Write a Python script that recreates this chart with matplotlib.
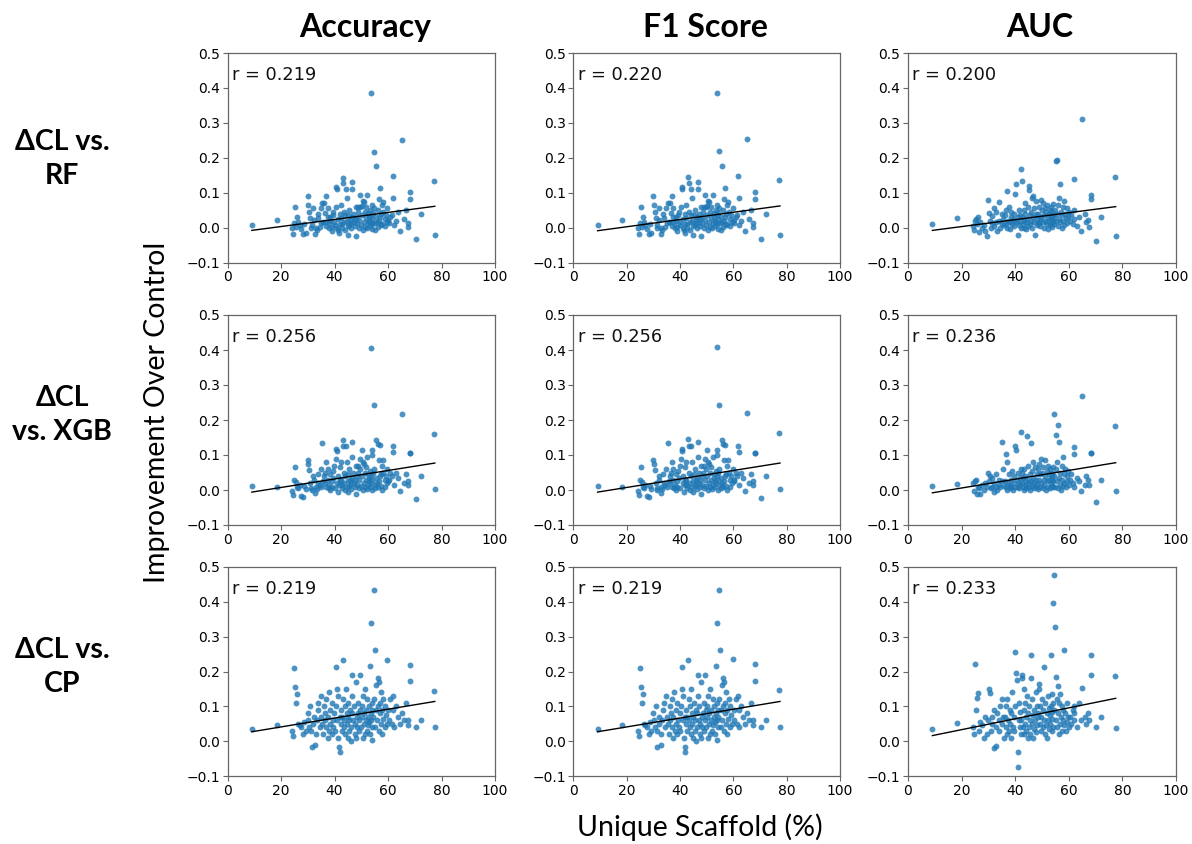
import matplotlib
matplotlib.use("Agg")
import matplotlib.pyplot as plt
import numpy as np

# ---------------- data ----------------
x_scaffold = [9.1, 18.4, 24.2, 24.6, 25.0, 25.4, 25.7, 26.1, 26.5, 27.0, 27.6, 28.2, 28.7, 29.3,
              30.0, 30.2, 30.6, 30.9, 31.3, 31.5, 32.0, 32.2, 32.7, 33.0, 33.3, 33.8, 34.0, 34.4, 34.9, 35.1, 35.4, 35.8,
              36.1, 36.4, 36.6, 36.9, 37.0, 37.4, 37.5, 37.9, 38.0, 38.4, 38.5, 38.9, 39.0, 39.4, 39.5, 39.9, 40.0, 40.4,
              40.6, 40.9, 41.0, 41.3, 41.4, 41.7, 41.9, 42.0,
              42.3, 42.4, 42.7, 42.8, 43.1, 43.2, 43.4, 43.7, 43.8, 44.1, 44.2, 44.5, 44.6, 44.9, 45.0, 45.2, 45.5, 45.6,
              45.9, 46.0, 46.3, 46.4, 46.6, 46.7, 47.1, 47.2, 47.5, 47.6, 47.9, 48.0, 48.3, 48.4,
              48.6, 48.9, 49.0, 49.3, 49.4, 49.7, 49.8, 50.1, 50.2, 50.5, 50.6, 50.9, 51.0, 51.3, 51.4, 51.7, 51.8, 52.1,
              52.2, 52.5, 52.6, 52.9, 53.0, 53.3, 53.4, 53.6, 53.7, 53.8, 53.9, 54.0, 54.1, 54.2,
              54.3, 54.6, 54.8, 55.1, 55.2, 55.5, 55.7, 55.8, 56.1, 56.2, 56.5, 56.6, 56.9, 57.0, 57.3, 57.4, 57.7, 57.8,
              58.1, 58.3, 58.7, 58.9, 59.3, 59.5, 59.8, 60.1,
              60.4, 60.9, 61.5, 61.9, 62.0, 62.1, 62.9, 63.8, 64.5, 65.1, 65.9, 66.6, 67.3, 67.4, 68.1, 68.3, 70.3, 72.2,
              77.3, 77.5]

acc_rf = [0.008, 0.023, 0.000, -0.017, 0.012, 0.059, 0.003, 0.029, 0.017, 0.008, -0.005, -0.019, 0.010, -0.016,
          0.090, 0.065, 0.046, 0.027, 0.000, 0.008, 0.055, 0.022, -0.017, 0.000, -0.007, 0.040, 0.027, 0.003, 0.055, 0.012, 0.071, 0.017,
          0.071, 0.017, 0.041, 0.005, 0.090, 0.030, 0.055, 0.012, -0.002, 0.029, 0.020, -0.011, 0.003, 0.035, 0.046, 0.017, 0.008, 0.060,
          0.116, 0.110, 0.000, 0.025, -0.007, -0.016, 0.040, 0.010,
          0.065, 0.027, 0.010, 0.000, 0.143, 0.127, 0.046, 0.017, -0.007, 0.035, 0.110, 0.020, 0.084, 0.005, -0.021, 0.036, 0.008, 0.050,
          0.022, 0.012, -0.002, 0.030, 0.130, 0.110, 0.040, 0.015, 0.025, 0.004, 0.060, -0.024, 0.031, 0.012,
          0.046, 0.060, 0.000, 0.022, 0.094, 0.058, 0.008, 0.036, 0.061, -0.007, 0.077, 0.017, 0.074, 0.003, 0.046, 0.058, 0.027, -0.002,
          0.093, 0.012, 0.041, 0.030, 0.020, 0.005, 0.050, 0.015, 0.386, 0.035, 0.010, 0.065, 0.025, -0.005,
          0.041, 0.055, 0.217, 0.012, -0.007, 0.030, 0.175, 0.017, 0.003, 0.050, 0.082, 0.020, 0.031, 0.114, 0.008, 0.040, 0.010, 0.065,
          0.072, 0.046, 0.025, 0.005, 0.035, 0.015, 0.055, 0.022,
          0.012, 0.029, 0.035, 0.148, 0.085, 0.008, 0.019, 0.045, -0.010, 0.252, 0.025, 0.050, 0.012, 0.003, 0.101, 0.083, -0.034, 0.040,
          0.134, -0.021]

f1_rf = [0.008, 0.023, 0.000, -0.017, 0.012, 0.060, 0.003, 0.029, 0.017, 0.008, -0.005, -0.019, 0.010, -0.016,
         0.090, 0.065, 0.046, 0.027, 0.000, 0.008, 0.055, 0.022, -0.017, 0.000, -0.007, 0.040, 0.027, 0.003, 0.055, 0.012, 0.071, 0.017,
         0.071, 0.017, 0.041, 0.005, 0.091, 0.030, 0.055, 0.012, -0.002, 0.029, 0.020, -0.011, 0.003, 0.035, 0.046, 0.017, 0.008, 0.060,
         0.116, 0.110, 0.000, 0.025, -0.007, -0.016, 0.040, 0.010,
         0.065, 0.027, 0.010, 0.000, 0.144, 0.127, 0.046, 0.017, -0.007, 0.035, 0.110, 0.020, 0.084, 0.005, -0.021, 0.036, 0.008, 0.050,
         0.022, 0.012, -0.002, 0.030, 0.130, 0.111, 0.040, 0.015, 0.025, 0.004, 0.060, -0.024, 0.031, 0.012,
         0.046, 0.060, 0.000, 0.022, 0.094, 0.058, 0.008, 0.036, 0.061, -0.007, 0.077, 0.017, 0.074, 0.003, 0.046, 0.058, 0.027, -0.002,
         0.093, 0.012, 0.041, 0.030, 0.020, 0.005, 0.050, 0.015, 0.386, 0.035, 0.010, 0.065, 0.025, -0.005,
         0.041, 0.055, 0.218, 0.012, -0.007, 0.030, 0.176, 0.017, 0.003, 0.050, 0.082, 0.020, 0.031, 0.114, 0.008, 0.040, 0.010, 0.065,
         0.072, 0.046, 0.025, 0.005, 0.035, 0.015, 0.055, 0.022,
         0.012, 0.029, 0.035, 0.148, 0.085, 0.008, 0.019, 0.045, -0.010, 0.253, 0.025, 0.050, 0.012, 0.003, 0.101, 0.083, -0.032, 0.040,
         0.136, -0.020]

auc_rf = [0.010, 0.027, 0.005, -0.008, 0.020, 0.025, 0.010, 0.030, -0.014, 0.015, 0.000, 0.008, -0.010, -0.024,
          0.078, 0.041, 0.020, 0.000, 0.012, 0.033, 0.005, 0.057, 0.015, 0.045, -0.010, 0.074, 0.020, 0.000, 0.010, 0.040, 0.025, 0.008,
          0.035, 0.010, 0.050, 0.000, 0.105, 0.020, 0.060, 0.015, -0.005, 0.030, 0.045, 0.010, 0.025, 0.005, 0.040, 0.020, 0.097, 0.126,
          0.015, -0.020, 0.030, 0.050, 0.008, 0.020, 0.035, 0.000,
          0.167, 0.133, 0.030, 0.010, 0.050, 0.000, 0.020, 0.070, 0.040, 0.015, -0.005, 0.025, 0.060, 0.005, 0.119, 0.107, 0.035, 0.010,
          0.045, 0.020, 0.000, 0.086, 0.090, 0.030, 0.015, 0.055, -0.020, 0.040, 0.076, 0.008, 0.025, 0.012,
          0.040, 0.012, 0.060, 0.025, 0.005, 0.080, 0.030, 0.050, 0.015, 0.070, 0.000, 0.035, 0.055, 0.020, 0.045, 0.010, 0.065, 0.028,
          -0.005, 0.040, 0.018, 0.050, 0.008, 0.030, 0.060, 0.022, 0.012, 0.045, 0.002, 0.035, 0.020, 0.068,
          0.030, 0.010, 0.050, 0.190, 0.020, 0.193, 0.040, 0.005, 0.065, 0.025, 0.085, 0.015, 0.124, 0.045, 0.000, 0.035, 0.060, 0.018,
          0.075, 0.008, 0.040, 0.028, 0.055, 0.012, 0.030, 0.045,
          0.020, 0.035, 0.010, 0.138, 0.050, 0.025, 0.005, 0.030, -0.010, 0.310, 0.040, 0.015, 0.021, 0.002, 0.093, 0.081, -0.038, 0.030,
          0.144, -0.025]

acc_xgb = [0.012, 0.010, -0.004, -0.015, 0.030, 0.067, 0.022, 0.010, 0.005, 0.015, -0.018, -0.020, 0.012, 0.003,
           0.085, 0.074, 0.058, 0.020, 0.005, 0.000, 0.040, 0.030, -0.008, 0.010, 0.003, 0.045, 0.020, 0.015, 0.060, 0.008, 0.134, 0.025,
           0.040, 0.020, 0.050, 0.010, 0.080, 0.030, 0.060, 0.005, 0.015, 0.045, 0.000, 0.025, 0.010, 0.055, 0.035, 0.070, 0.005, 0.090,
           0.118, 0.112, 0.020, 0.040, -0.005, 0.015, 0.065, 0.030,
           0.080, 0.030, 0.015, 0.005, 0.144, 0.125, 0.050, 0.020, 0.000, 0.040, 0.125, 0.010, 0.080, 0.025, -0.005, 0.045, 0.012, 0.060,
           0.030, 0.018, 0.002, 0.035, 0.137, 0.095, 0.050, 0.020, 0.030, 0.008, 0.070, -0.010, 0.040, 0.015,
           0.050, 0.070, 0.005, 0.030, 0.090, 0.060, 0.012, 0.040, 0.114, 0.000, 0.080, 0.020, 0.075, 0.008, 0.050, 0.065, 0.030, 0.002,
           0.095, 0.015, 0.045, 0.035, 0.025, 0.010, 0.055, 0.020, 0.040, 0.407, 0.114, 0.100, 0.030, 0.000,
           0.050, 0.060, 0.242, 0.015, 0.005, 0.035, 0.144, 0.020, 0.010, 0.132, 0.085, 0.025, 0.040, 0.130, 0.012, 0.045, 0.000, 0.070,
           0.085, 0.050, 0.030, 0.010, 0.040, 0.020, 0.060, 0.025,
           0.030, 0.050, 0.040, 0.125, 0.110, 0.015, 0.050, 0.035, -0.002, 0.218, 0.020, 0.045, 0.025, 0.015, 0.106, 0.106, -0.025, 0.040,
           0.161, 0.004]

f1_xgb = [0.012, 0.010, -0.004, -0.015, 0.030, 0.067, 0.022, 0.010, 0.005, 0.015, -0.018, -0.020, 0.012, 0.003,
          0.085, 0.074, 0.058, 0.020, 0.005, 0.000, 0.040, 0.030, -0.008, 0.010, 0.003, 0.045, 0.020, 0.015, 0.060, 0.008, 0.134, 0.025,
          0.040, 0.020, 0.050, 0.010, 0.080, 0.030, 0.060, 0.005, 0.015, 0.045, 0.000, 0.025, 0.010, 0.055, 0.035, 0.070, 0.005, 0.090,
          0.118, 0.112, 0.020, 0.040, -0.005, 0.015, 0.065, 0.030,
          0.080, 0.030, 0.015, 0.005, 0.145, 0.125, 0.050, 0.020, 0.000, 0.040, 0.125, 0.010, 0.080, 0.025, -0.005, 0.045, 0.012, 0.060,
          0.030, 0.018, 0.002, 0.035, 0.137, 0.095, 0.050, 0.020, 0.030, 0.008, 0.070, -0.010, 0.040, 0.015,
          0.050, 0.070, 0.005, 0.030, 0.090, 0.060, 0.012, 0.040, 0.114, 0.000, 0.080, 0.020, 0.075, 0.008, 0.050, 0.065, 0.030, 0.002,
          0.095, 0.015, 0.045, 0.035, 0.025, 0.010, 0.055, 0.020, 0.040, 0.408, 0.114, 0.100, 0.030, 0.000,
          0.050, 0.060, 0.243, 0.015, 0.005, 0.035, 0.144, 0.020, 0.010, 0.132, 0.085, 0.025, 0.040, 0.130, 0.012, 0.045, 0.000, 0.070,
          0.085, 0.050, 0.030, 0.010, 0.040, 0.020, 0.060, 0.025,
          0.030, 0.050, 0.040, 0.125, 0.110, 0.015, 0.050, 0.035, -0.002, 0.219, 0.020, 0.045, 0.025, 0.015, 0.106, 0.106, -0.024, 0.040,
          0.163, 0.004]

auc_xgb = [0.012, 0.017, 0.020, -0.002, 0.025, 0.030, -0.010, 0.010, 0.005, -0.011, 0.015, 0.000, 0.020, 0.008,
           0.050, 0.025, 0.040, 0.005, 0.010, 0.035, -0.005, 0.020, 0.010, 0.045, 0.000, 0.030, 0.015, 0.008, 0.025, 0.136, 0.060, 0.012,
           0.025, 0.010, 0.104, 0.000, 0.081, 0.020, 0.045, 0.005, 0.015, 0.030, 0.010, 0.055, 0.000, 0.020, 0.040, 0.008, 0.125, 0.115,
           0.030, 0.010, 0.050, 0.020, 0.005, 0.035, 0.015, 0.060,
           0.166, 0.050, 0.020, 0.035, 0.010, 0.000, 0.060, 0.025, 0.040, 0.015, 0.005, 0.153, 0.030, 0.070, 0.010, 0.020, 0.045, 0.000,
           0.135, 0.025, 0.055, 0.012, 0.035, 0.080, 0.005, 0.020, 0.065, 0.030, 0.010, 0.045, 0.018, 0.002,
           0.060, 0.030, 0.075, 0.010, 0.045, 0.090, 0.020, 0.050, 0.005, 0.065, 0.030, 0.015, 0.085, 0.040, 0.000, 0.055, 0.025, 0.070,
           0.010, 0.045, 0.030, 0.060, 0.005, 0.035, 0.020, 0.050, 0.012, 0.040, 0.028, 0.065, 0.008, 0.025,
           0.040, 0.216, 0.010, 0.060, 0.156, 0.025, 0.080, 0.005, 0.186, 0.035, 0.138, 0.015, 0.050, 0.000, 0.070, 0.030, 0.012, 0.095,
           0.045, 0.020, 0.060, 0.008, 0.040, 0.025, 0.055, 0.015,
           0.030, 0.045, 0.020, 0.123, 0.102, 0.010, 0.035, 0.025, -0.002, 0.268, 0.015, 0.040, 0.030, 0.013, 0.106, 0.106, -0.034, 0.030,
           0.184, -0.002]

acc_cp = [0.036, 0.046, 0.030, 0.014, 0.210, 0.155, 0.110, 0.134, 0.050, 0.045, 0.040, 0.020, 0.055, 0.030,
          0.080, 0.060, 0.040, 0.100, 0.030, -0.016, 0.050, 0.070, -0.010, 0.020, 0.060, 0.090, 0.110, 0.040, 0.130, 0.070, 0.050, 0.020,
          0.100, 0.060, 0.080, 0.040, 0.120, 0.010, 0.070, 0.140, 0.030, 0.090, 0.050, 0.020, 0.110, 0.060, 0.040, 0.080, 0.030, 0.100,
          0.214, 0.150, 0.060, 0.130, 0.010, -0.018, -0.030, 0.070,
          0.090, 0.050, 0.030, 0.070, 0.233, 0.120, 0.060, 0.040, 0.100, 0.020, 0.150, 0.080, 0.050, 0.010, 0.070, 0.110, 0.030, 0.060,
          0.090, 0.000, 0.040, 0.080, 0.190, 0.130, 0.060, 0.100, 0.020, 0.050, 0.170, 0.010, 0.070, 0.040,
          0.080, 0.110, 0.030, 0.060, 0.190, 0.090, 0.040, 0.070, 0.100, 0.010, 0.130, 0.050, 0.080, 0.020, 0.150, 0.060, 0.090, 0.030,
          0.120, 0.045, 0.070, 0.100, 0.055, 0.020, 0.217, 0.080, 0.060, 0.339, 0.003, 0.110, 0.040, 0.090,
          0.070, 0.434, 0.120, 0.263, 0.040, 0.090, 0.160, 0.060, 0.100, 0.180, 0.030, 0.170, 0.080, 0.110, 0.050, 0.140, 0.020, 0.090,
          0.065, 0.120, 0.040, 0.100, 0.075, 0.050, 0.234, 0.090,
          0.060, 0.120, 0.050, 0.130, 0.090, 0.040, 0.100, 0.070, 0.050, 0.080, 0.060, 0.110, 0.045, 0.060, 0.220, 0.174, 0.040, 0.060,
          0.145, 0.041]

f1_cp = [0.036, 0.046, 0.030, 0.014, 0.210, 0.155, 0.110, 0.134, 0.050, 0.045, 0.040, 0.020, 0.055, 0.030,
         0.080, 0.060, 0.040, 0.100, 0.030, -0.016, 0.050, 0.070, -0.010, 0.020, 0.060, 0.090, 0.110, 0.040, 0.130, 0.070, 0.050, 0.020,
         0.100, 0.060, 0.080, 0.040, 0.120, 0.010, 0.070, 0.140, 0.030, 0.090, 0.050, 0.020, 0.110, 0.060, 0.040, 0.080, 0.030, 0.100,
         0.214, 0.150, 0.060, 0.130, 0.010, -0.018, -0.030, 0.070,
         0.090, 0.050, 0.030, 0.070, 0.234, 0.120, 0.060, 0.040, 0.100, 0.020, 0.150, 0.080, 0.050, 0.010, 0.070, 0.110, 0.030, 0.060,
         0.090, 0.000, 0.040, 0.080, 0.191, 0.130, 0.060, 0.100, 0.020, 0.050, 0.170, 0.010, 0.070, 0.040,
         0.080, 0.110, 0.030, 0.060, 0.190, 0.090, 0.040, 0.070, 0.100, 0.010, 0.130, 0.050, 0.080, 0.020, 0.150, 0.060, 0.090, 0.030,
         0.120, 0.045, 0.070, 0.100, 0.055, 0.020, 0.217, 0.080, 0.060, 0.340, 0.003, 0.110, 0.040, 0.090,
         0.070, 0.435, 0.120, 0.263, 0.040, 0.090, 0.160, 0.060, 0.100, 0.180, 0.030, 0.170, 0.080, 0.110, 0.050, 0.140, 0.020, 0.090,
         0.065, 0.120, 0.040, 0.100, 0.075, 0.050, 0.235, 0.090,
         0.060, 0.120, 0.050, 0.130, 0.090, 0.040, 0.100, 0.070, 0.050, 0.080, 0.060, 0.110, 0.045, 0.060, 0.221, 0.174, 0.040, 0.060,
         0.146, 0.041]

auc_cp = [0.034, 0.051, 0.040, 0.020, 0.221, 0.089, 0.125, 0.139, 0.030, 0.055, 0.045, 0.010, 0.070, 0.020,
          0.060, 0.150, 0.139, 0.030, 0.050, 0.070, -0.020, 0.090, 0.040, -0.013, 0.080, 0.060, 0.030, 0.100, 0.050, 0.120, 0.070, 0.010,
          0.070, 0.040, 0.100, 0.020, 0.120, 0.060, 0.030, 0.090, 0.050, 0.010, 0.080, 0.140, 0.040, 0.070, 0.030, 0.100, 0.257, 0.195,
          0.175, -0.032, -0.073, 0.060, 0.110, 0.040, 0.085, 0.020,
          0.060, 0.190, 0.180, 0.040, 0.150, 0.090, 0.020, 0.110, 0.050, 0.070, 0.030, 0.130, 0.010, 0.080, 0.100, 0.040, 0.060, 0.020,
          0.248, 0.181, 0.120, 0.050, 0.075, 0.010, 0.090, 0.035, 0.060, 0.140, 0.025, 0.100, 0.045, 0.070,
          0.080, 0.163, 0.149, 0.050, 0.100, 0.030, 0.070, 0.120, 0.040, 0.090, 0.214, 0.060, 0.020, 0.110, 0.045, 0.080, 0.010, 0.130,
          0.060, 0.095, 0.035, 0.075, 0.050, 0.246, 0.100, 0.030, 0.065, 0.135, 0.085, 0.397, 0.040, 0.110,
          0.478, 0.090, 0.328, 0.060, 0.184, 0.120, 0.040, 0.159, 0.080, 0.020, 0.110, 0.050, 0.135, 0.070, 0.030, 0.100, 0.060, 0.090,
          0.045, 0.263, 0.080, 0.030, 0.110, 0.055, 0.070, 0.040,
          0.070, 0.050, 0.090, 0.100, 0.060, 0.080, 0.040, 0.110, 0.060, 0.154, 0.070, 0.050, 0.080, 0.060, 0.247, 0.191, 0.042, 0.070,
          0.188, 0.037]

# fitted trend line values at the smallest and largest scaffold %
fit_start = [[-0.008, -0.009, -0.008],
             [-0.006, -0.006, -0.008],
             [0.027, 0.027, 0.016]]
fit_end = [[0.061, 0.062, 0.060],
           [0.077, 0.077, 0.078],
           [0.114, 0.114, 0.123]]

metrics = ["Accuracy", "F1 Score", "AUC"]
comparisons = ["\u0394CL vs.\nRF", "\u0394CL\nvs. XGB", "\u0394CL vs.\nCP"]
r_labels = [["r = 0.219", "r = 0.220", "r = 0.200"],
            ["r = 0.256", "r = 0.256", "r = 0.236"],
            ["r = 0.219", "r = 0.219", "r = 0.233"]]
panel_y = [[acc_rf, f1_rf, auc_rf],
           [acc_xgb, f1_xgb, auc_xgb],
           [acc_cp, f1_cp, auc_cp]]
x_ticks = [0, 20, 40, 60, 80, 100]
y_ticks = [-0.1, 0.0, 0.1, 0.2, 0.3, 0.4, 0.5]

# ---------------- layout ----------------
W, H = 1192, 844
fig = plt.figure(figsize=(W / 100, H / 100), dpi=100)
col_left = [227.5, 573.3, 908.0]
col_width = [267.5, 266.7, 268.0]
row_top = [53.0, 315.0, 567.0]
row_height = [209.5, 210.0, 209.0]

pt_color = "#1f77b4"
spine_color = "#666666"
label_font = ["Lato", "DejaVu Sans"]

x_arr = np.array(x_scaffold)
xl = np.array([x_arr.min(), x_arr.max()])
for i in range(3):
    for j in range(3):
        l, w = col_left[j], col_width[j]
        t, h = row_top[i], row_height[i]
        ax = fig.add_axes([l / W, 1 - (t + h) / H, w / W, h / H])
        y_arr = np.array(panel_y[i][j])
        ax.scatter(x_arr, y_arr, s=18, color=pt_color, alpha=0.8, linewidths=0, zorder=2)
        ax.plot(xl, [fit_start[i][j], fit_end[i][j]], color="black", lw=1.0, zorder=3)
        ax.set_xlim(0, 100)
        ax.set_ylim(-0.1, 0.5)
        ax.set_xticks(x_ticks)
        ax.set_yticks(y_ticks)
        ax.set_xticklabels([str(v) for v in x_ticks])
        ax.set_yticklabels(["\u22120.1", "0.0", "0.1", "0.2", "0.3", "0.4", "0.5"])
        ax.tick_params(labelsize=10, length=3.5, width=0.8, color=spine_color, pad=2)
        for sp in ax.spines.values():
            sp.set_color(spine_color)
            sp.set_linewidth(0.9)
        ax.text(0.016, 0.895, r_labels[i][j], transform=ax.transAxes,
                ha="left", va="center", fontsize=12.8, color="#111111",
                family=["DejaVu Sans"])

# column titles
title_x = [365, 705, 1040]
for j in range(3):
    fig.text(title_x[j] / W, 1 - 37 / H, metrics[j], ha="center", va="baseline",
             fontsize=23, fontweight="bold", family=label_font)

# row labels
row_label_y = [159, 415, 667]
for i in range(3):
    fig.text(62 / W, 1 - row_label_y[i] / H, comparisons[i], ha="center", va="center",
             fontsize=20.5, fontweight="bold", family=label_font, linespacing=1.42)

fig.text(157 / W, 1 - 412 / H, "Improvement Over Control", rotation=90, ha="center", va="center",
         fontsize=20.5, family=label_font)
fig.text(700 / W, 1 - 827 / H, "Unique Scaffold (%)", ha="center", va="center",
         fontsize=20.5, family=label_font)

fig.savefig("out.png", dpi=100)
